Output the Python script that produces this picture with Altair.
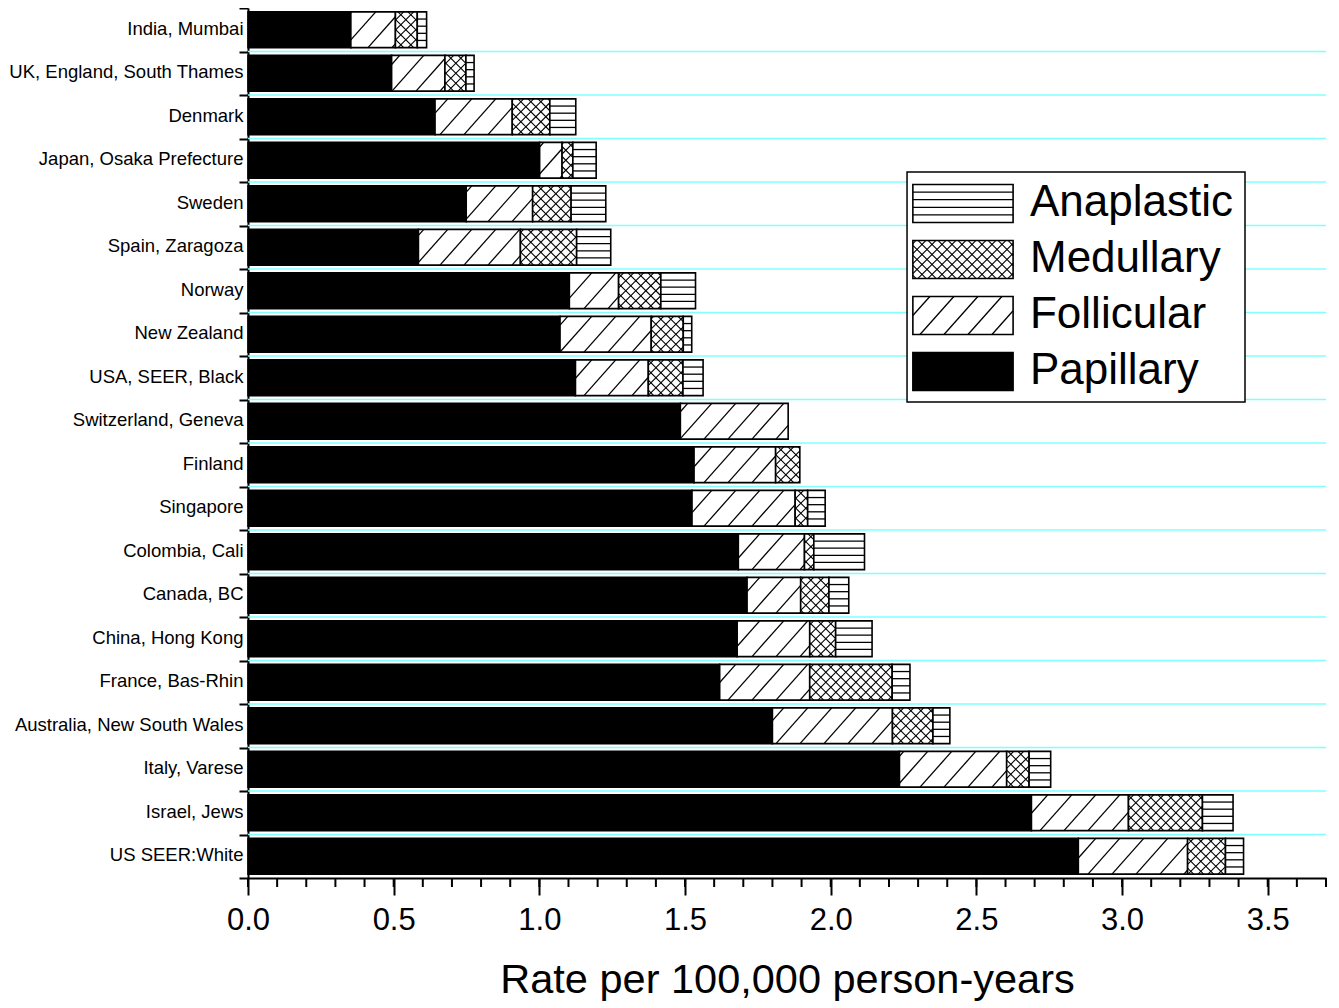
import json
import altair as alt
import pandas as pd

# ---------------- data ----------------
REGIONS = [
    "India, Mumbai", "UK, England, South Thames", "Denmark",
    "Japan, Osaka Prefecture", "Sweden", "Spain, Zaragoza", "Norway",
    "New Zealand", "USA, SEER, Black", "Switzerland, Geneva", "Finland",
    "Singapore", "Colombia, Cali", "Canada, BC", "China, Hong Kong",
    "France, Bas-Rhin", "Australia, New South Wales", "Italy, Varese",
    "Israel, Jews", "US SEER:White",
]
PAPILLARY = [0.353, 0.493, 0.642, 1.001, 0.749, 0.585, 1.103, 1.071, 1.124, 1.484,
             1.531, 1.524, 1.683, 1.713, 1.679, 1.619, 1.800, 2.236, 2.689, 2.850]
FOLLICULAR = [0.153, 0.183, 0.265, 0.077, 0.228, 0.350, 0.169, 0.313, 0.250, 0.370,
              0.280, 0.354, 0.227, 0.184, 0.249, 0.309, 0.412, 0.368, 0.333, 0.375]
MEDULLARY = [0.075, 0.072, 0.129, 0.037, 0.132, 0.193, 0.145, 0.110, 0.119, 0.0,
             0.083, 0.043, 0.032, 0.097, 0.089, 0.283, 0.139, 0.077, 0.254, 0.130]
ANAPLASTIC = [0.032, 0.028, 0.089, 0.080, 0.119, 0.117, 0.119, 0.029, 0.069, 0.0,
              0.0, 0.060, 0.174, 0.068, 0.125, 0.061, 0.058, 0.074, 0.105, 0.062]
TYPES = ["Papillary", "Follicular", "Medullary", "Anaplastic"]
LEGEND_ORDER = ["Anaplastic", "Medullary", "Follicular", "Papillary"]
X_TICKS = [0.0, 0.5, 1.0, 1.5, 2.0, 2.5, 3.0, 3.5]
X_TITLE = "Rate per 100,000 person-years"

SERIES = {"Papillary": PAPILLARY, "Follicular": FOLLICULAR,
          "Medullary": MEDULLARY, "Anaplastic": ANAPLASTIC}

records = []
for i, reg in enumerate(REGIONS):
    for j, t in enumerate(TYPES):
        records.append({"region": reg, "row": i, "type": t, "order": j,
                        "value": SERIES[t][i]})
df = pd.DataFrame(records)

# ---------------- layout / style ----------------
W, H = 1078, 870
XMAX = 3.7
N = len(REGIONS)
PX = W / XMAX          # pixels per x unit
PY = H / N             # pixels per row
HH = 0.41              # half bar height (rows)
FONT = "Liberation Sans"

xscale = alt.Scale(domain=[0, XMAX], nice=False, zero=False)
yscale = alt.Scale(domain=[-0.5, N - 0.5], reverse=True, nice=False, zero=False)

names_js = json.dumps(REGIONS)
xaxis = alt.Axis(values=X_TICKS, format=".1f", title=X_TITLE, grid=False,
                 tickSize=17, tickWidth=2, tickColor="black",
                 domainColor="black", domainWidth=2,
                 labelFontSize=31, labelColor="black", labelPadding=10,
                 labelFlush=False, labelFont=FONT,
                 titleFontSize=41.5, titleFontWeight="normal", titleColor="black",
                 titlePadding=24, titleFont=FONT)
yaxis = alt.Axis(values=[i - 0.5 for i in range(N + 1)],
                 labelExpr=f"{names_js}[datum.value + 0.5] || ''",
                 labelOffset=PY / 2 - 1.5, labelOverlap=False, labelLimit=0,
                 tickSize=9, tickWidth=2, tickColor="black",
                 domainColor="black", domainWidth=2, grid=False, title=None,
                 labelFontSize=18.5, labelColor="black", labelPadding=-4,
                 labelFont=FONT)


def X(f):
    return alt.X(f, scale=xscale, axis=xaxis)


def Y(f):
    return alt.Y(f, scale=yscale, axis=yaxis)


fill_enc = alt.Fill("type:N", legend=None,
                    scale=alt.Scale(domain=TYPES, range=["black", "white", "white", "white"]))


def diag(src, ratio, spacing_px, up, width):
    """Diagonal hatch lines clipped to each segment [a, b]."""
    ystart = "datum.row + datum.hh" if up else "datum.row - datum.hh"
    sign = "-" if up else "+"
    return (
        src.transform_calculate(
            dx=f"{ratio} * 2 * datum.hh * {PY} / {PX}",
            s=f"{spacing_px} / {PX}",
        )
        .transform_calculate(
            ks="sequence(floor((datum.a - datum.dx) / datum.s), ceil(datum.b / datum.s) + 1)"
        )
        .transform_flatten(["ks"], as_=["k"])
        .transform_calculate(x0="datum.k * datum.s")
        .transform_calculate(
            tlo="max(0, (datum.a - datum.x0) / datum.dx)",
            thi="min(1, (datum.b - datum.x0) / datum.dx)",
        )
        .transform_filter("datum.thi > datum.tlo")
        .transform_calculate(
            xs="datum.x0 + datum.tlo * datum.dx",
            xe="datum.x0 + datum.thi * datum.dx",
            ys=f"{ystart} {sign} 2 * datum.hh * datum.tlo",
            ye=f"{ystart} {sign} 2 * datum.hh * datum.thi",
        )
        .mark_rule(color="black", strokeWidth=width)
        .encode(x=X("xs:Q"), x2=alt.X2("xe"), y=Y("ys:Q"), y2=alt.Y2("ye"))
    )


def hatches(src):
    fol = src.transform_filter("datum.type == 'Follicular'")
    med = src.transform_filter("datum.type == 'Medullary'")
    ana = src.transform_filter("datum.type == 'Anaplastic'")
    horiz = (
        ana.transform_calculate(js="sequence(1, 5)")
        .transform_flatten(["js"], as_=["j"])
        .transform_calculate(yl="datum.row - datum.hh + datum.j * 2 * datum.hh / 5")
        .mark_rule(color="black", strokeWidth=1.3)
        .encode(x=X("a:Q"), x2=alt.X2("b"), y=Y("yl:Q"))
    )
    return [
        diag(fol, 0.89, 24, True, 1.3),
        diag(med, 1.0, 10, True, 1.1),
        diag(med, 1.0, 10, False, 1.1),
        horiz,
    ]


# ---------------- bars ----------------
base = (
    alt.Chart(df)
    .transform_filter("datum.value > 0")
    .transform_stack(stack="value", groupby=["region"],
                     sort=[alt.SortField("order", "ascending")], as_=["a", "b"])
    .transform_calculate(hh=f"{HH}")
    .transform_calculate(yt="datum.row - datum.hh", yb="datum.row + datum.hh")
)
bars = base.mark_rect(stroke="black", strokeWidth=1.6).encode(
    x=X("a:Q"), x2=alt.X2("b"), y=Y("yt:Q"), y2=alt.Y2("yb"), fill=fill_enc
)

# ---------------- grid and minor ticks ----------------
grid = (
    alt.Chart(alt.sequence(0.5, N - 1, 1, as_="g"))
    .mark_rule(color="#80ffff", strokeWidth=1.6)
    .encode(x=alt.value(0), x2=alt.value(W), y=Y("g:Q"))
)
minor = (
    alt.Chart(alt.sequence(0, XMAX + 0.05, 0.1, as_="v"))
    .mark_rule(color="black", strokeWidth=2)
    .encode(x=X("v:Q"), y=alt.value(H), y2=alt.value(H + 9))
)

# ---------------- legend (inside plot) ----------------
LEG_BOX = {"a": 2.262, "b": 3.422, "yt": 3.27, "yb": 8.557}
SW_A, SW_B, TX = 2.282, 2.626, 2.684
LEG_ROW0, LEG_STEP, LEG_HH = 3.994, 1.287, 0.437

legend_box = (
    alt.Chart(pd.DataFrame([LEG_BOX]))
    .mark_rect(fill="white", stroke="black", strokeWidth=1.5)
    .encode(x=X("a:Q"), x2=alt.X2("b"), y=Y("yt:Q"), y2=alt.Y2("yb"))
)
leg_src = (
    alt.Chart(pd.DataFrame({"type": LEGEND_ORDER, "slot": list(range(len(LEGEND_ORDER)))}))
    .transform_calculate(
        a=f"{SW_A}", b=f"{SW_B}", hh=f"{LEG_HH}",
        row=f"{LEG_ROW0} + datum.slot * {LEG_STEP}",
        tx=f"{TX}",
    )
    .transform_calculate(yt="datum.row - datum.hh", yb="datum.row + datum.hh")
)
leg_sw = leg_src.mark_rect(stroke="black", strokeWidth=1.6).encode(
    x=X("a:Q"), x2=alt.X2("b"), y=Y("yt:Q"), y2=alt.Y2("yb"), fill=fill_enc
)
leg_txt = leg_src.mark_text(align="left", baseline="middle", fontSize=44,
                            font=FONT, color="black").encode(
    x=X("tx:Q"), y=Y("row:Q"), text="type:N"
)

chart = (
    alt.layer(grid, bars, *hatches(base), minor, legend_box, leg_sw,
              *hatches(leg_src), leg_txt)
    .properties(width=W, height=H,
                autosize=alt.AutoSizeParams(type="none"),
                padding={"left": 240, "top": 0, "right": 5, "bottom": 130},
                background="white")
    .configure(font=FONT)
    .configure_view(stroke=None)
)

chart.save("out.html", embed_options={"renderer": "svg", "actions": False})
